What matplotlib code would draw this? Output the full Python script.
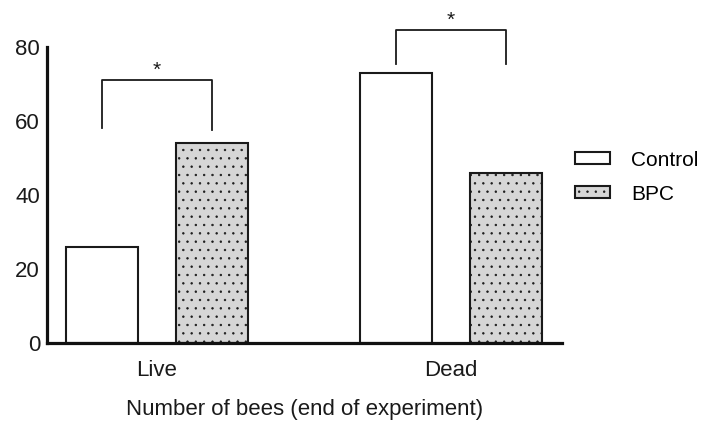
import matplotlib
matplotlib.use('Agg')
import matplotlib.pyplot as plt
import numpy as np

plt.rcParams['font.family'] = ['Liberation Sans', 'DejaVu Sans']
plt.rcParams['hatch.color'] = '#bababa'
plt.rcParams['hatch.linewidth'] = 0.5

# data
groups = ['Live', 'Dead']
series = ['Control', 'BPC']
control = [26, 73]
bpc = [54, 46]
# significance brackets: (bracket top, left leg end, right leg end)
brackets = [(71, 58, 57.5), (84.5, 75.5, 75.5)]

x = np.arange(len(groups))
offset = 0.187
width = 0.245

fig = plt.figure(figsize=(7.16, 4.24), dpi=100, facecolor='white')
ax = fig.add_axes([0.0656, 0.191, 0.7194, 0.698])

ax.bar(x - offset, control, width, facecolor='white', edgecolor='#1a1a1a',
       linewidth=1.5, label=series[0], zorder=2)
ax.bar(x + offset, bpc, width, facecolor='#d6d6d6', edgecolor='#1a1a1a',
       linewidth=1.5, hatch='..', label=series[1], zorder=2)

for i, (top, l_end, r_end) in enumerate(brackets):
    xl, xr = x[i] - offset, x[i] + offset
    ax.plot([xl, xl, xr, xr], [l_end, top, top, r_end], color='#1a1a1a',
            linewidth=1.3, clip_on=False)
    ax.text(x[i], top + 2.8, '*', ha='center', va='center', fontsize=15,
            color='#1a1a1a', clip_on=False)

ax.set_xlim(-0.374, 1.378)
ax.set_ylim(0, 80)
ax.set_yticks([0, 20, 40, 60, 80])
ax.set_xticks(x)
ax.set_xticklabels(groups)
ax.tick_params(axis='both', length=0, labelsize=16, colors='#1a1a1a')
ax.tick_params(axis='y', pad=5)
ax.tick_params(axis='x', pad=12)

for s in ['top', 'right']:
    ax.spines[s].set_visible(False)
for s in ['left', 'bottom']:
    ax.spines[s].set_linewidth(2.3)
    ax.spines[s].set_color('#111111')

ax.set_xlabel('Number of bees (end of experiment)', fontsize=16,
              color='#1a1a1a', labelpad=13)

leg = fig.legend(*ax.get_legend_handles_labels(), loc='center left',
                 bbox_to_anchor=(575 / 716, 1 - 177 / 424), frameon=False,
                 fontsize=15, handlelength=1.7, handleheight=0.55,
                 handletextpad=1.0, labelspacing=0.72,
                 borderpad=0, borderaxespad=0)

fig.savefig('out.png', dpi=100, facecolor='white')
